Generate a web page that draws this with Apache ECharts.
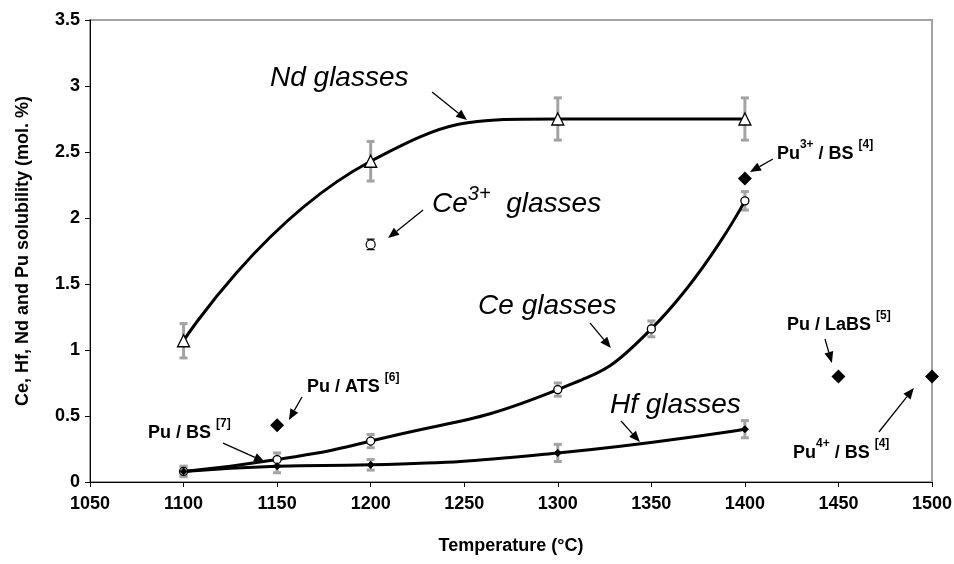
<!DOCTYPE html>
<html><head><meta charset="utf-8">
<script src="https://cdn.jsdelivr.net/npm/echarts@6/dist/echarts.min.js"></script>
<style>html,body{margin:0;padding:0;background:#fff}#c{width:954px;height:564px}</style>
</head><body><div id="c"></div>
<script>
// ---- data ----
const xTicks = [1050,1100,1150,1200,1250,1300,1350,1400,1450,1500];
const yTicks = [0,0.5,1,1.5,2,2.5,3,3.5];

const ndX = [1100,1200,1300,1400];
const ndY = [1.07,2.43,2.75,2.75];
const ndErr = [0.13,0.15,0.16,0.16];

const ceX = [1100,1150,1200,1300,1350,1400];
const ceY = [0.08,0.17,0.31,0.70,1.16,2.13];
const ceErr = [0.03,0.05,0.05,0.05,0.06,0.07];

const ce3X = [1200];
const ce3Y = [1.80];
const ce3Err = [0.04];

const hfX = [1100,1150,1200,1300,1400];
const hfY = [0.08,0.12,0.13,0.22,0.40];
const hfErr = [0.04,0.05,0.04,0.065,0.065];

const puX = [1150,1400,1450,1500];
const puY = [0.43,2.30,0.80,0.80];

// annotation anchors in data units
const labelItalic = [
  {x:1146.2, y:2.992, t:'{m|Nd glasses}'},
  {x:1232.8, y:2.038, t:'{m|Ce}{s|3+}{m|  glasses}'},
  {x:1257.4, y:1.265, t:'{m|Ce glasses}'},
  {x:1327.9, y:0.515, t:'{m|Hf glasses}'}
];
const labelBold = [
  {x:1166.0, y:0.682, t:'{m|Pu / ATS }{s|[6]}'},
  {x:1081.0, y:0.333, t:'{m|Pu / BS }{s|[7]}'},
  {x:1417.1, y:2.447, t:'{m|Pu}{s|3+}{m| / BS }{s|[4]}'},
  {x:1422.5, y:1.152, t:'{m|Pu / LaBS }{s|[5]}'},
  {x:1425.7, y:0.182, t:'{m|Pu}{s|4+}{m| / BS }{s|[4]}'}
];
const arrows = [
  [1232.8,2.955,1251.5,2.742],
  [1228.0,2.061,1209.3,1.848],
  [1317.2,1.205,1328.4,1.015],
  [1333.8,0.462,1343.9,0.303],
  [1163.3,0.644,1156.3,0.470],
  [1121.1,0.295,1143.5,0.152],
  [1415.0,2.447,1402.7,2.348],
  [1442.8,1.083,1446.5,0.902],
  [1471.6,0.379,1490.3,0.712]
];

const FONT = 'Liberation Sans, Arial, sans-serif';
const zip = (a,b) => a.map((v,i)=>[v,b[i]]);
const zip3 = (a,b,c) => a.map((v,i)=>[v,b[i],c[i]]);

function errRender(color, width, cap){
  return function(params, api){
    const x = api.value(0), y = api.value(1), e = api.value(2);
    const p1 = api.coord([x, y+e]), p2 = api.coord([x, y-e]);
    const st = {stroke: color, lineWidth: width};
    return {type:'group', children:[
      {type:'line', shape:{x1:p1[0],y1:p1[1],x2:p2[0],y2:p2[1]}, style:st},
      {type:'line', shape:{x1:p1[0]-cap,y1:p1[1],x2:p1[0]+cap,y2:p1[1]}, style:st},
      {type:'line', shape:{x1:p2[0]-cap,y1:p2[1],x2:p2[0]+cap,y2:p2[1]}, style:st}
    ]};
  };
}
function arrowRender(params, api){
  const a = api.coord([api.value(0), api.value(1)]);
  const b = api.coord([api.value(2), api.value(3)]);
  const dx = b[0]-a[0], dy = b[1]-a[1], L = Math.hypot(dx,dy);
  const ux = dx/L, uy = dy/L, hl = 11, hw = 4.5;
  const bx = b[0]-ux*hl, by = b[1]-uy*hl;
  return {type:'group', children:[
    {type:'line', shape:{x1:a[0],y1:a[1],x2:bx,y2:by}, style:{stroke:'#000',lineWidth:1.3}},
    {type:'polygon', shape:{points:[[b[0],b[1]],[bx-uy*hw,by+ux*hw],[bx+uy*hw,by-ux*hw]]}, style:{fill:'#000'}}
  ]};
}

const chart = echarts.init(document.getElementById('c'), null, {renderer:'canvas'});
const gray = '#a3a3a3';
const axisLbl = {fontFamily:FONT,fontWeight:'bold',fontSize:18,color:'#000',formatter:v=>String(v)};
const option = {
  animation:false,
  backgroundColor:'#fff',
  grid:{left:90,right:22,top:20,bottom:82,show:true,borderColor:gray,borderWidth:2,backgroundColor:'transparent',outerBoundsMode:'none'},
  xAxis:{type:'value',min:xTicks[0],max:xTicks[xTicks.length-1],interval:50,
    name:'Temperature (°C)',nameLocation:'middle',nameGap:55,
    nameTextStyle:{fontFamily:FONT,fontWeight:'bold',fontSize:18,color:'#000'},
    axisLine:{onZero:false,lineStyle:{color:'#000',width:1}},
    axisTick:{length:5,lineStyle:{color:'#000'}},
    axisLabel:Object.assign({margin:13},axisLbl),
    splitLine:{show:false}},
  yAxis:{type:'value',min:yTicks[0],max:yTicks[yTicks.length-1],interval:0.5,
    name:'Ce, Hf, Nd and Pu solubility (mol. %)',nameLocation:'middle',nameGap:58,
    nameTextStyle:{fontFamily:FONT,fontWeight:'bold',fontSize:18,color:'#000'},
    axisLine:{show:true,lineStyle:{color:'#000',width:1}},
    axisTick:{show:true,length:5,lineStyle:{color:'#000'}},
    axisLabel:Object.assign({margin:10},axisLbl),
    splitLine:{show:false}},
  series:[
    {type:'custom',name:'ndErr',renderItem:errRender(gray,3,4),data:zip3(ndX,ndY,ndErr),z:1,silent:true},
    {type:'custom',name:'ceErr',renderItem:errRender(gray,3,4),data:zip3(ceX,ceY,ceErr),z:1,silent:true},
    {type:'custom',name:'hfErr',renderItem:errRender(gray,3,4),data:zip3(hfX,hfY,hfErr),z:1,silent:true},
    {type:'custom',name:'ce3Err',renderItem:errRender('#000',1.2,4),data:zip3(ce3X,ce3Y,ce3Err),z:3,silent:true},
    {type:'line',name:'Nd',data:zip(ndX,ndY),smooth:0.5,smoothConstraint:false,symbol:'triangle',symbolSize:12,showAllSymbol:true,
      lineStyle:{color:'#000',width:3},itemStyle:{color:'#fff',borderColor:'#000',borderWidth:1.3},z:2},
    {type:'line',name:'Ce',data:zip(ceX,ceY),smooth:0.5,smoothConstraint:false,symbol:'circle',symbolSize:8,showAllSymbol:true,
      lineStyle:{color:'#000',width:3},itemStyle:{color:'#fff',borderColor:'#000',borderWidth:1.3},z:2},
    {type:'line',name:'Hf',data:zip(hfX,hfY),smooth:0.5,smoothConstraint:false,symbol:'diamond',symbolSize:7,showAllSymbol:true,
      lineStyle:{color:'#000',width:3},itemStyle:{color:'#000',borderColor:'#000',borderWidth:1},z:2},
    {type:'scatter',name:'Ce3+',data:zip(ce3X,ce3Y),symbol:'circle',symbolSize:9,
      itemStyle:{color:'#fff',borderColor:'#000',borderWidth:1.2,opacity:1},z:4},
    {type:'scatter',name:'Pu',data:zip(puX,puY),symbol:'diamond',symbolSize:14,
      itemStyle:{color:'#000',opacity:1},z:4},
    {type:'custom',name:'arrows',renderItem:arrowRender,data:arrows,z:5,silent:true}
  ]
};
chart.setOption(option);

function makeTexts(){
  const els = [];
  labelItalic.forEach(l=>{
    const p = chart.convertToPixel({gridIndex:0},[l.x,l.y]);
    els.push({type:'text',x:p[0],y:p[1]+5,z:10,style:{text:l.t,align:'left',verticalAlign:'bottom',
      rich:{m:{fontFamily:FONT,fontStyle:'italic',fontSize:28,lineHeight:34,verticalAlign:'bottom',fill:'#000'},
            s:{fontFamily:FONT,fontStyle:'italic',fontSize:20,lineHeight:34,verticalAlign:'top',fill:'#000'}}}});
  });
  labelBold.forEach(l=>{
    const p = chart.convertToPixel({gridIndex:0},[l.x,l.y]);
    els.push({type:'text',x:p[0],y:p[1]+4,z:10,style:{text:l.t,align:'left',verticalAlign:'bottom',
      rich:{m:{fontFamily:FONT,fontWeight:'bold',fontSize:18,lineHeight:24,verticalAlign:'bottom',fill:'#000'},
            s:{fontFamily:FONT,fontWeight:'bold',fontSize:12,lineHeight:24,verticalAlign:'top',fill:'#000'}}}});
  });
  chart.setOption({graphic:els});
}
makeTexts();
</script></body></html>
